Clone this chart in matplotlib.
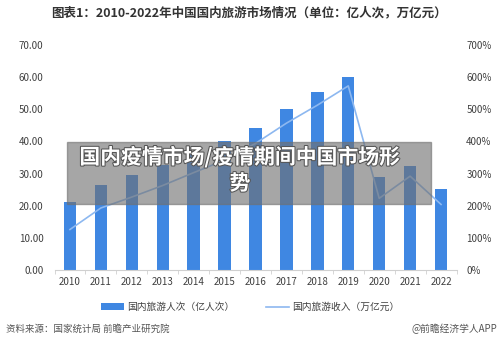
import matplotlib.pyplot as plt
from matplotlib.patches import Rectangle
import matplotlib.patheffects as pe
import numpy as np

plt.rcParams['font.family'] = ['Noto Sans CJK SC', 'DejaVu Sans']

years = ['2010', '2011', '2012', '2013', '2014', '2015', '2016',
         '2017', '2018', '2019', '2020', '2021', '2022']
trips = [21.03, 26.41, 29.57, 32.62, 36.11, 40.00, 44.35,
         50.01, 55.39, 60.06, 28.79, 32.46, 25.30]          # 亿人次
revenue = [1.26, 1.93, 2.27, 2.63, 3.03, 3.42, 3.94,
           4.57, 5.13, 5.73, 2.23, 2.92, 2.04]              # 万亿元, drawn on % axis

BAR = '#3f87e2'
LINE = '#8db8f0'
TXT = '#404040'

fig = plt.figure(figsize=(5, 3.47), dpi=100)
ax = fig.add_axes([0.109, 0.222, 0.804, 0.648])
x = np.arange(len(years))
ax.bar(x, trips, width=0.4, color=BAR, label='国内旅游人次（亿人次）', zorder=2)
ax.set_ylim(0, 70)
ax.set_xlim(-0.5, len(years) - 0.5)
ax.set_yticks(np.arange(0, 71, 10))
ax.set_yticklabels(['{:.2f}'.format(v) for v in range(0, 71, 10)])
ax.set_xticks(x)
ax.set_xticklabels(years)
ax.set_xticks(np.arange(-0.5, len(years)), minor=True)
ax.tick_params(axis='x', which='major', length=0, pad=5, labelsize=7, colors=TXT)
ax.tick_params(axis='x', which='minor', length=3, color='#d0d0d0')
ax.tick_params(axis='y', length=0, pad=8, labelsize=7, colors=TXT)
for s in ['top', 'right', 'left']:
    ax.spines[s].set_visible(False)
ax.spines['bottom'].set_color('#d0d0d0')

ax2 = ax.twinx()
ax2.plot(x, [v * 100 for v in revenue], color=LINE, lw=1.2,
         label='国内旅游收入（万亿元）', zorder=3)
ax2.set_ylim(0, 700)
ax2.set_yticks(np.arange(0, 701, 100))
ax2.set_yticklabels(['{}%'.format(v) for v in range(0, 701, 100)])
ax2.tick_params(axis='y', length=0, pad=7, labelsize=7, colors=TXT)
for s in ['top', 'right', 'left', 'bottom']:
    ax2.spines[s].set_visible(False)

fig.text(0.497, 0.962, '图表1：2010-2022年中国国内旅游市场情况（单位：亿人次，万亿元）',
         ha='center', va='center', fontsize=9, fontweight='bold', color='#333333')

h1, l1 = ax.get_legend_handles_labels()
h2, l2 = ax2.get_legend_handles_labels()
fig.legend(h1 + h2, l1 + l2, loc='center', bbox_to_anchor=(0.5, 0.115), ncol=2,
           frameon=False, fontsize=7, handlelength=2.4, columnspacing=3.2,
           handletextpad=0.3, labelcolor=TXT)

fig.text(0.012, 0.052, '资料来源：国家统计局 前瞻产业研究院', fontsize=6.8,
         color='#555555', va='center')
fig.text(0.994, 0.052, '@前瞻经济学人APP', fontsize=7, color='#555555',
         va='center', ha='right')

# grey banner overlay
fig.patches.append(Rectangle((67 / 500, 1 - 204 / 347), 364 / 500, 62 / 347,
                             transform=fig.transFigure, color='#707070',
                             alpha=0.62, zorder=10))
fig.text(240 / 500, 1 - 170 / 347, '国内疫情市场/疫情期间中国市场形\n势',
         ha='center', va='center', fontsize=15, fontweight='bold', color='white',
         linespacing=1.3, zorder=11,
         path_effects=[pe.withStroke(linewidth=1.5, foreground='#555555')])

fig.savefig('out.png', dpi=100)
